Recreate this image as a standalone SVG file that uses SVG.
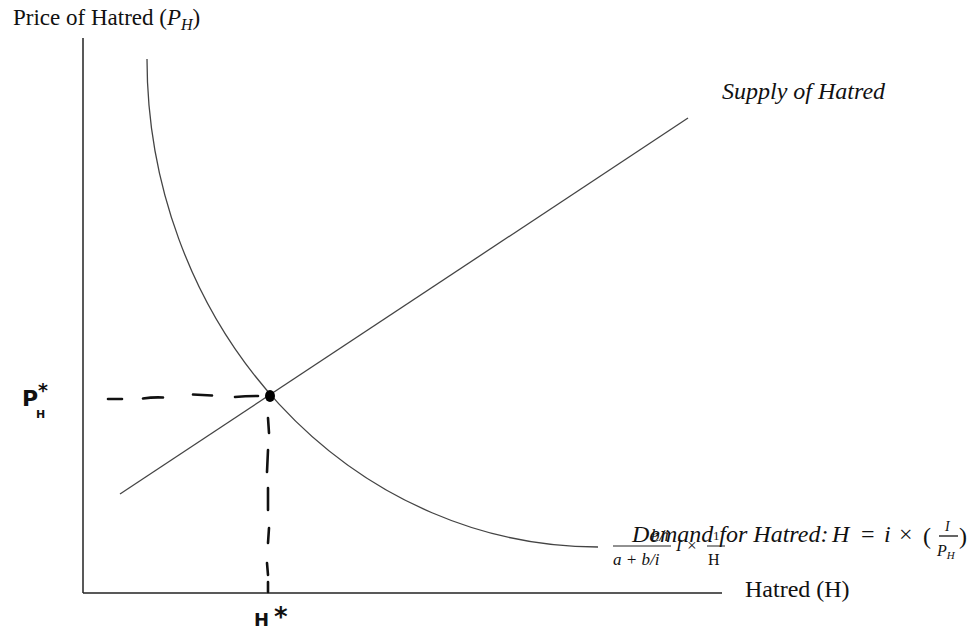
<svg xmlns="http://www.w3.org/2000/svg" width="972" height="636" viewBox="0 0 972 636">
<style>
.serif{font-family:"Liberation Serif","Times New Roman",serif;fill:#111}
.it{font-style:italic}
.hand{font-family:"DejaVu Sans","Liberation Sans",sans-serif;fill:#111;font-weight:bold}
.axis{stroke:#222;stroke-width:1.5;fill:none}
.curve{stroke:#444;stroke-width:1.3;fill:none}
.dash{stroke:#111;stroke-width:2.6;stroke-linecap:round;fill:none}
.bar{stroke:#222;stroke-width:1}
</style>
<rect width="972" height="636" fill="#fff"/>
<g id="axes">
  <line class="axis" x1="83" y1="38" x2="83" y2="593"/>
  <line class="axis" x1="83" y1="593" x2="722" y2="593"/>
</g>
<g id="title">
  <text class="serif" x="13" y="25" font-size="23">Price of Hatred (<tspan class="it">P</tspan><tspan class="it" font-size="16" dy="5">H</tspan><tspan dy="-5">)</tspan></text>
</g>
<g id="xlabel">
  <text class="serif" x="745" y="597" font-size="24">Hatred (H)</text>
</g>
<g id="connectors">
  <line id="supply" class="curve" x1="120" y1="494" x2="688" y2="118"/>
  <path id="demand" class="curve" d="M147 59 A451 488 0 0 0 598 547"/>
  <path class="dash" d="M108 399 L122 399 M143 398.5 Q153 397 163 397.5 M193 394.5 L212 395.5 M235 397 Q246 396 258 396"/>
  <path class="dash" d="M268 418 L269 433 M268 450 L267 472 M268 488 L268 510 M269 528 L268 543 M267 563 L268 575 M268 582 L268 592"/>
</g>
<g id="equilibrium">
  <ellipse cx="270" cy="396" rx="5" ry="6" fill="#000"/>
</g>
<g id="supply-label">
  <text class="serif it" x="722" y="99" font-size="24">Supply of Hatred</text>
</g>
<g id="demand-label">
  <text class="serif it" x="669" y="541" font-size="17" text-anchor="end">b/i</text>
  <line class="bar" x1="613" y1="546" x2="671" y2="546"/>
  <text class="serif it" x="613" y="565" font-size="17">a + b/i</text>
  <text class="serif it" x="676" y="551" font-size="17">I ×</text>
  <text class="serif" x="713" y="540" font-size="13">1</text>
  <line class="bar" x1="707" y1="546" x2="725" y2="546"/>
  <text class="serif" x="708" y="565" font-size="16">H</text>
  <text class="serif it" x="632" y="542" font-size="24">Demand for Hatred:</text>
  <text class="serif it" x="832" y="542" font-size="24">H</text>
  <text class="serif" x="861" y="542" font-size="24">=</text>
  <text class="serif it" x="884" y="542" font-size="24">i</text>
  <text class="serif" x="899" y="542" font-size="24">×</text>
  <text class="serif" x="923" y="544" font-size="24">(</text>
  <text class="serif it" x="945" y="531" font-size="14">I</text>
  <line x1="939" y1="536" x2="958" y2="536" stroke="#111" stroke-width="1.3"/>
  <text class="serif it" x="937" y="556" font-size="16">P<tspan font-size="11" dy="3">H</tspan></text>
  <text class="serif" x="959" y="544" font-size="24">)</text>
</g>
<g id="p-star">
  <text class="hand" x="22" y="406" font-size="22">P</text>
  <text class="hand" x="38" y="397" font-size="19">*</text>
  <text class="hand" x="36" y="418" font-size="11">H</text>
</g>
<g id="h-star">
  <text class="hand" x="254" y="626" font-size="18" font-weight="normal">H</text>
  <text class="hand" x="274" y="626" font-size="26">*</text>
</g>
</svg>
